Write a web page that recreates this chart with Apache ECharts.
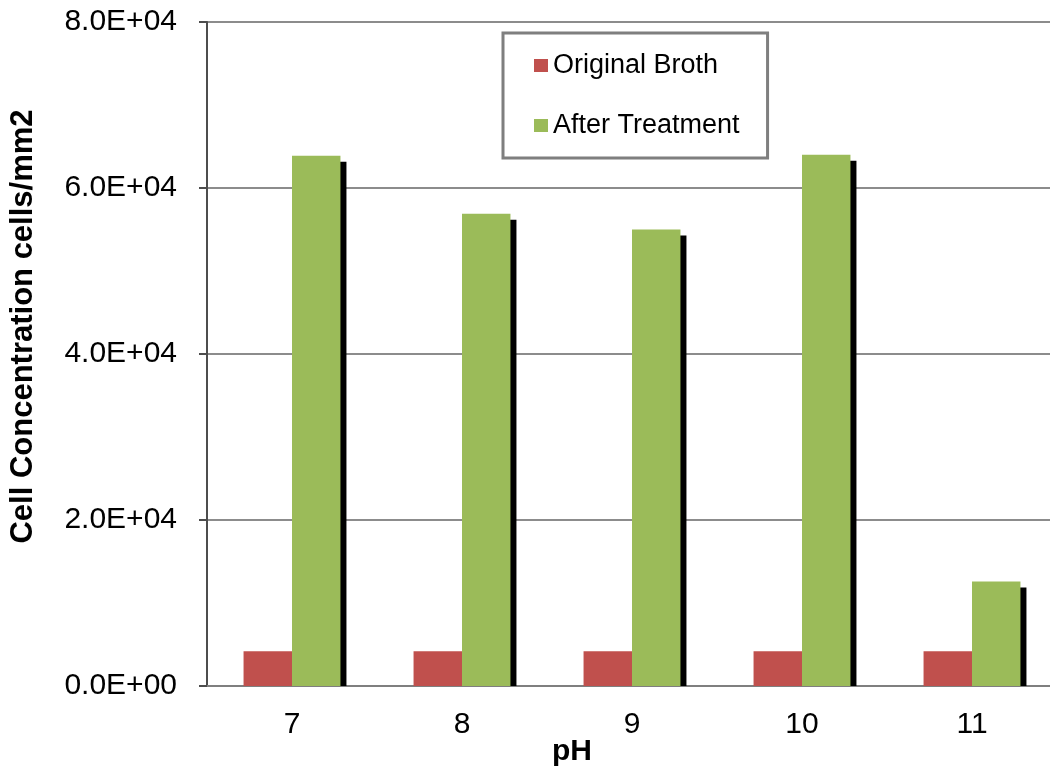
<!DOCTYPE html>
<html>
<head>
<meta charset="utf-8">
<script src="https://cdn.jsdelivr.net/npm/echarts@6/dist/echarts.min.js"></script>
<style>
  html, body { margin: 0; padding: 0; background: #fff; }
  #chart { width: 1050px; height: 769px; }
</style>
</head>
<body>
<div id="chart"></div>
<script>
// pH levels tested and the measured cell concentrations (cells/mm2)
const categories = ['7', '8', '9', '10', '11'];
const originalBroth = [4200, 4200, 4200, 4200, 4200];
const afterTreatment = [63900, 56900, 55000, 64000, 12600];
const yTicks = [0, 20000, 40000, 60000, 80000];

const FONT = '"Liberation Sans", Arial, sans-serif';
const RED = '#C0504D';
const GREEN = '#9BBB59';
const BAR_FRACTION = 0.285;   // bar width as a share of the category band

function fmtSci(v) {
  if (v === 0) return '0.0E+00';
  const e = Math.floor(Math.log10(Math.abs(v)));
  const m = v / Math.pow(10, e);
  return m.toFixed(1) + 'E+' + String(e).padStart(2, '0');
}

const chart = echarts.init(document.getElementById('chart'), null, { renderer: 'canvas' });

chart.setOption({
  animation: false,
  backgroundColor: '#ffffff',
  grid: { left: 207, right: -7, top: 22, bottom: 83, containLabel: false, outerBoundsMode: 'none' },
  legend: {
    orient: 'vertical',
    left: 503,
    top: 33,
    data: ['Original Broth', 'After Treatment'],
    icon: 'rect',
    itemWidth: 14,
    itemHeight: 13,
    itemGap: 33,
    padding: [19, 28, 19, 31],
    borderColor: '#7f7f7f',
    borderWidth: 3,
    backgroundColor: '#ffffff',
    textStyle: { fontFamily: FONT, fontSize: 27, color: '#000', padding: [0, 0, 0, 0] },
    selectedMode: false
  },
  xAxis: {
    type: 'category',
    data: categories,
    name: 'pH',
    nameLocation: 'middle',
    nameGap: 51,
    nameMoveOverlap: false,
    nameTextStyle: { fontFamily: FONT, fontSize: 30, fontWeight: 'bold', color: '#000', padding: [0, 120, 0, 0] },
    axisLine: { lineStyle: { color: '#7f7f7f', width: 2 } },
    axisTick: { show: false },
    axisLabel: { fontFamily: FONT, fontSize: 30, color: '#000', margin: 24 },
    splitLine: { show: false }
  },
  yAxis: {
    type: 'value',
    min: yTicks[0],
    max: yTicks[yTicks.length - 1],
    interval: yTicks[1] - yTicks[0],
    name: 'Cell Concentration cells/mm2',
    nameLocation: 'middle',
    nameGap: 168,
    nameMoveOverlap: false,
    nameTextStyle: { fontFamily: FONT, fontSize: 31, fontWeight: 'bold', color: '#000', padding: [0, 0, 0, 55] },
    axisLine: { show: true, lineStyle: { color: '#4d4d4d', width: 2 } },
    axisTick: { show: true, length: 8, lineStyle: { color: '#4d4d4d', width: 2 } },
    axisLabel: { fontFamily: FONT, fontSize: 30, color: '#000', margin: 30, formatter: fmtSci },
    splitLine: { show: true, lineStyle: { color: '#8c8c8c', width: 2 } }
  },
  series: [
    {
      // drop shadow behind the treated bars
      name: 'shadow',
      type: 'custom',
      z: 1,
      silent: true,
      data: afterTreatment.map((v, i) => [i, v]),
      renderItem: function (params, api) {
        const base = api.coord([api.value(0), 0]);
        const top = api.coord([api.value(0), api.value(1)]);
        const band = api.size([1, 0])[0];
        const w = band * BAR_FRACTION;
        const off = 6;
        return {
          type: 'rect',
          shape: { x: top[0] + off, y: top[1] + off, width: w, height: base[1] - top[1] - off },
          style: { fill: '#000' }
        };
      }
    },
    {
      name: 'Original Broth',
      type: 'bar',
      z: 2,
      data: originalBroth,
      barWidth: (BAR_FRACTION * 100) + '%',
      barGap: '0%',
      barCategoryGap: '43%',
      itemStyle: { color: RED }
    },
    {
      name: 'After Treatment',
      type: 'bar',
      z: 3,
      data: afterTreatment,
      barWidth: (BAR_FRACTION * 100) + '%',
      barGap: '0%',
      itemStyle: { color: GREEN }
    }
  ]
});
</script>
</body>
</html>
